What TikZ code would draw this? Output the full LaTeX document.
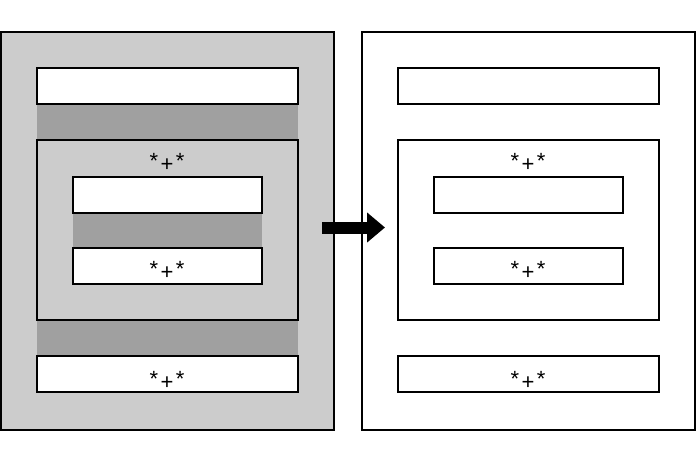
\documentclass[tikz,border=0pt]{standalone}
\usepackage{fontspec}
\setmainfont{Liberation Sans}
\usetikzlibrary{arrows.meta}
\definecolor{lightfill}{HTML}{CCCCCC}
\definecolor{bandfill}{HTML}{A0A0A0}
\newcommand{\starplus}{\raisebox{3pt}{*}\kern2.5pt+\kern2.5pt\raisebox{3pt}{*}}
\begin{document}
\begin{tikzpicture}[x=1pt, y=-1pt, line width=1.5pt,
  panel/.style={rectangle,draw,minimum width=333pt,minimum height=398pt,inner sep=0pt},
  wide box/.style={rectangle,draw,fill=white,minimum width=261pt,minimum height=36pt,inner sep=0pt},
  mid box/.style={rectangle,draw,minimum width=261pt,minimum height=180pt,inner sep=0pt},
  small box/.style={rectangle,draw,fill=white,minimum width=189pt,minimum height=36pt,inner sep=0pt},
  band/.style={rectangle,fill=bandfill,draw=none,inner sep=0pt,minimum height=36pt},
  label/.style={font=\fontsize{22}{26}\selectfont,inner sep=0pt,anchor=base}]
\useasboundingbox (0,0) rectangle (696,464);
% left panel
\node [panel,fill=lightfill](lp) at (167.5,231) {};
\node [band,minimum width=261pt](lb1) at (167.5,122) {};
\node [band,minimum width=261pt](lb3) at (167.5,338) {};
\node [wide box](ltop) at (167.5,86) {};
\node [mid box,fill=lightfill](lmid) at (167.5,230) {};
\node [band,minimum width=189pt](lb2) at (167.5,230.5) {};
\node [small box](lin1) at (167.5,195) {};
\node [small box](lin2) at (167.5,266) {};
\node [wide box](lbot) at (167.5,374) {};
% right panel
\node [panel,fill=white](rp) at (528.5,231) {};
\node [wide box](rtop) at (528.5,86) {};
\node [mid box](rmid) at (528.5,230) {};
\node [small box](rin1) at (528.5,195) {};
\node [small box](rin2) at (528.5,266) {};
\node [wide box](rbot) at (528.5,374) {};
% labels
\begin{scope}[every node/.style={label}]
\node (lt1) at (167,171.5) {\starplus};
\node (lt2) at (167,279.5) {\starplus};
\node (lt3) at (167,389) {\starplus};
\node (rt1) at (528,171.5) {\starplus};
\node (rt2) at (528,279.5) {\starplus};
\node (rt3) at (528,389) {\starplus};
\end{scope}
% arrow
\coordinate (a0) at (322,227.5);
\coordinate (a1) at (385,227.5);
\draw [line width=12pt,-{Triangle[length=18pt,width=29pt]}] (a0) -- (a1);
\end{tikzpicture}
\end{document}
